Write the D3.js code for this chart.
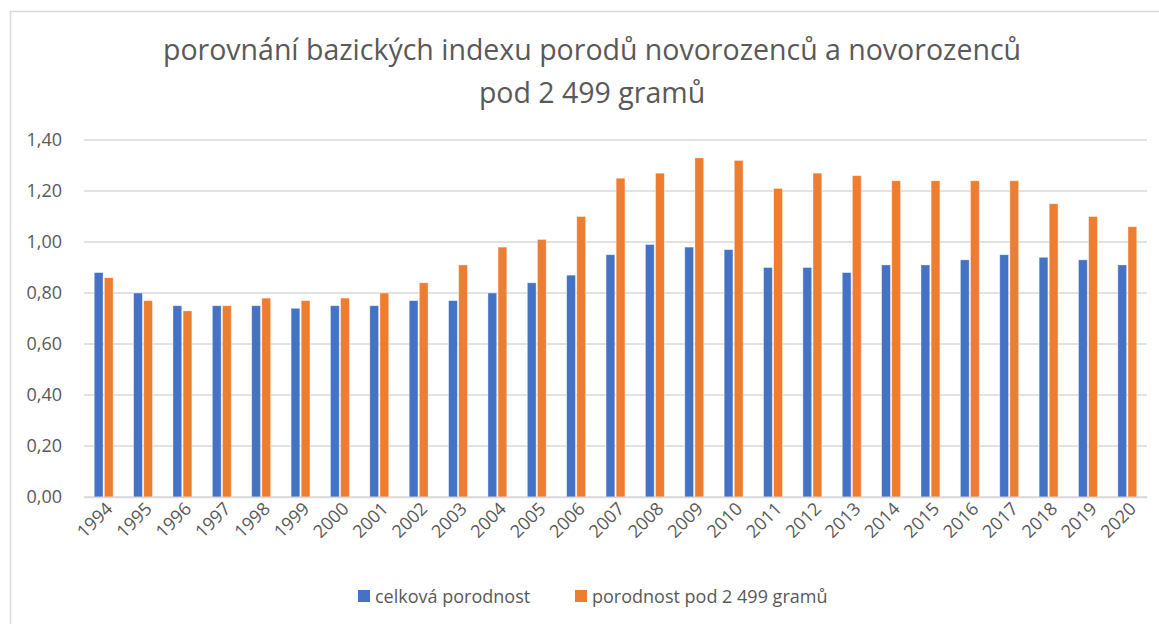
<!DOCTYPE html>
<html>
<head>
<meta charset="utf-8">
<script src="https://cdn.jsdelivr.net/npm/d3@7"></script>
<style>
  body { margin: 0; background: #fff; }
  svg { display: block; font-family: 'Open Sans', sans-serif; }
</style>
</head>
<body>
<div id="chart"></div>
<script>
// data
const years = ['1994', '1995', '1996', '1997', '1998', '1999', '2000', '2001', '2002',
  '2003', '2004', '2005', '2006', '2007', '2008', '2009', '2010', '2011', '2012',
  '2013', '2014', '2015', '2016', '2017', '2018', '2019', '2020'];
const celkova = [0.88, 0.80, 0.75, 0.75, 0.75, 0.74, 0.75, 0.75, 0.77,
  0.77, 0.80, 0.84, 0.87, 0.95, 0.99, 0.98, 0.97, 0.90, 0.90,
  0.88, 0.91, 0.91, 0.93, 0.95, 0.94, 0.93, 0.91];
const pod2499 = [0.86, 0.77, 0.73, 0.75, 0.78, 0.77, 0.78, 0.80, 0.84,
  0.91, 0.98, 1.01, 1.10, 1.25, 1.27, 1.33, 1.32, 1.21, 1.27,
  1.26, 1.24, 1.24, 1.24, 1.24, 1.15, 1.10, 1.06];
const seriesNames = ['celková porodnost', 'porodnost pod 2 499 gramů'];
const seriesColors = ['#4472C4', '#ED7D31'];
const yTicks = [0, 0.2, 0.4, 0.6, 0.8, 1.0, 1.2, 1.4];
const titleLines = ['porovnání bazických indexu porodů novorozenců a novorozenců', 'pod 2 499 gramů'];

const width = 1159, height = 624;
const margin = { top: 140, right: 12, bottom: 127, left: 84 };

const svg = d3.select('#chart')
  .append('svg')
  .attr('width', width)
  .attr('height', height);

// outer chart border (only top and left edges are inside the picture)
svg.append('rect')
  .attr('x', 10.5).attr('y', 11.5)
  .attr('width', width).attr('height', height)
  .attr('fill', 'none')
  .attr('stroke', '#d9d9d9')
  .attr('stroke-width', 1.5);

// title
svg.append('g')
  .selectAll('text')
  .data(titleLines)
  .join('text')
  .attr('x', 592)
  .attr('y', (d, i) => 60 + i * 43)
  .attr('text-anchor', 'middle')
  .attr('fill', '#595959')
  .style('font-size', '28.5px')
  .text(d => d);

const x = d3.scaleBand()
  .domain(years)
  .range([margin.left, width - margin.right]);

const xInner = d3.scaleBand()
  .domain([0, 1])
  .range([x.bandwidth() * 0.26, x.bandwidth() * 0.74])
  .paddingInner(0.13);

const y = d3.scaleLinear()
  .domain([0, 1.4])
  .range([height - margin.bottom, margin.top]);

// gridlines
svg.append('g')
  .attr('class', 'grid')
  .selectAll('line')
  .data(yTicks)
  .join('line')
  .attr('x1', margin.left)
  .attr('x2', width - margin.right)
  .attr('y1', d => y(d))
  .attr('y2', d => y(d))
  .attr('stroke', '#d9d9d9')
  .attr('stroke-width', 1.5);

// y axis labels
const fmt = d => d3.format('.2f')(d).replace('.', ',');
const yAxis = svg.append('g')
  .attr('transform', `translate(${margin.left}, 0)`)
  .call(d3.axisLeft(y).tickValues(yTicks).tickFormat(fmt).tickSize(0).tickPadding(22));
yAxis.select('.domain').remove();
yAxis.selectAll('text')
  .attr('fill', '#595959')
  .style('font-size', '18px')
  .style('font-family', "'Open Sans', sans-serif");

// bars
const rows = years.map((yr, i) => ({ year: yr, values: [celkova[i], pod2499[i]] }));
const groups = svg.append('g')
  .selectAll('g')
  .data(rows)
  .join('g')
  .attr('transform', d => `translate(${x(d.year)}, 0)`);

groups.selectAll('rect')
  .data(d => d.values.map((v, k) => ({ k, v })))
  .join('rect')
  .attr('x', d => xInner(d.k))
  .attr('y', d => y(d.v))
  .attr('width', xInner.bandwidth())
  .attr('height', d => y(0) - y(d.v))
  .attr('fill', d => seriesColors[d.k])
  .attr('stroke', '#fff')
  .attr('stroke-opacity', 0.5)
  .attr('stroke-width', 0.75);

// x axis
const xAxis = svg.append('g')
  .attr('transform', `translate(0, ${y(0)})`)
  .call(d3.axisBottom(x).tickSize(0).tickPadding(0));
xAxis.select('.domain')
  .attr('stroke', '#d9d9d9')
  .attr('stroke-width', 1.5);
xAxis.selectAll('text')
  .attr('fill', '#595959')
  .style('font-size', '18px')
  .style('font-family', "'Open Sans', sans-serif")
  .attr('text-anchor', 'end')
  .attr('dy', null)
  .attr('y', null)
  .attr('transform', 'translate(10, 13) rotate(-45)');

// legend
const legendX = [358, 575];
const legend = svg.append('g')
  .selectAll('g')
  .data(seriesNames)
  .join('g')
  .attr('transform', (d, i) => `translate(${legendX[i]}, 590)`);
legend.append('rect')
  .attr('width', 12)
  .attr('height', 12)
  .attr('fill', (d, i) => seriesColors[i]);
legend.append('text')
  .attr('x', 17)
  .attr('y', 13)
  .attr('fill', '#595959')
  .style('font-size', '18px')
  .text(d => d);
</script>
</body>
</html>
